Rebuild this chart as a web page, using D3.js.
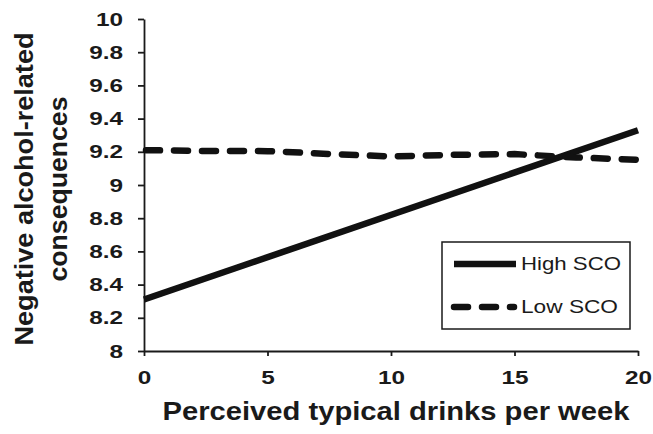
<!DOCTYPE html>
<html><head><meta charset="utf-8">
<script src="https://cdn.jsdelivr.net/npm/d3@7"></script>
<style>
body{margin:0;background:#fff;}
svg{display:block;font-family:"Liberation Sans",Arial,sans-serif;}
</style></head><body>
<script>
const xTicks = [0, 5, 10, 15, 20];
const yTicks = [8, 8.2, 8.4, 8.6, 8.8, 9, 9.2, 9.4, 9.6, 9.8, 10];
const highX = [0, 20];
const highY = [8.31, 9.33];
const lowX = [0, 2.5, 5, 7.5, 10, 12.5, 15, 17.5, 20];
const lowY = [9.21, 9.205, 9.204, 9.187, 9.172, 9.182, 9.186, 9.166, 9.152];
const seriesNames = ["High SCO", "Low SCO"];
const xTitle = "Perceived typical drinks per week";
const yTitle = ["Negative alcohol-related", "consequences"];

const W = 653, H = 434;
const m = {left:144, top:19, right:15, bottom:83};
const svg = d3.select("body").append("svg").attr("width", W).attr("height", H);
const x = d3.scaleLinear().domain([0, 20]).range([m.left, W - m.right]);
const y = d3.scaleLinear().domain([8, 10]).range([H - m.bottom, m.top]);
const ink = "#1a1a1a";
const stretch = 1.28;

const gy = svg.append("g").attr("transform", `translate(${m.left},0)`)
  .call(d3.axisLeft(y).tickValues(yTicks).tickFormat(d3.format("~g")).tickSize(6).tickPadding(15).tickSizeOuter(0));
const gx = svg.append("g").attr("transform", `translate(0,${H - m.bottom})`)
  .call(d3.axisBottom(x).tickValues(xTicks).tickFormat(d3.format("d")).tickSize(5).tickPadding(15).tickSizeOuter(0));
[gx, gy].forEach(g => {
  g.select(".domain").attr("stroke", ink).attr("stroke-width", 1.8);
  g.selectAll(".tick line").attr("stroke", ink).attr("stroke-width", 1.8);
  g.selectAll("text").attr("fill", ink).attr("font-size", 19).attr("font-weight", "bold")
    .each(function(){
      const w = this.getComputedTextLength();
      d3.select(this).attr("textLength", w * stretch).attr("lengthAdjust", "spacingAndGlyphs");
    });
});

const line = d3.line().x(d => x(d[0])).y(d => y(d[1]));
svg.append("path").datum(highX.map((v, i) => [v, highY[i]]))
  .attr("d", line).attr("fill", "none").attr("stroke", "#111").attr("stroke-width", 6.5);
svg.append("path").datum(lowX.map((v, i) => [v, lowY[i]]))
  .attr("d", line).attr("fill", "none").attr("stroke", "#111").attr("stroke-width", 6.5)
  .attr("stroke-linecap", "round").attr("stroke-dasharray", "14,14").attr("stroke-dashoffset", -2);

// legend
const lg = svg.append("g");
lg.append("rect").attr("x", 442).attr("y", 242).attr("width", 188).attr("height", 87)
  .attr("fill", "#fff").attr("stroke", ink).attr("stroke-width", 1.5);
const ly = [264, 307];
seriesNames.forEach((n, i) => {
  lg.append("line").attr("x1", 454).attr("x2", i ? 514 : 516).attr("y1", ly[i]).attr("y2", ly[i])
    .attr("stroke", "#111").attr("stroke-width", 6.5)
    .attr("stroke-linecap", i ? "round" : "butt")
    .attr("stroke-dasharray", i ? "14,14" : null);
  lg.append("text").attr("x", 521).attr("y", ly[i]).attr("dy", "0.35em")
    .attr("font-size", 18).attr("fill", ink)
    .attr("textLength", i ? 97 : 100).attr("lengthAdjust", "spacingAndGlyphs").text(n);
});

// axis titles
svg.append("text").attr("x", 396).attr("y", 420).attr("text-anchor", "middle")
  .attr("font-size", 25).attr("font-weight", "bold").attr("fill", ink)
  .attr("textLength", 467).attr("lengthAdjust", "spacingAndGlyphs").text(xTitle);
const yt = svg.append("g").attr("transform", "translate(0,189) rotate(-90)");
yt.append("text").attr("x", 0).attr("y", 33).attr("text-anchor", "middle")
  .attr("font-size", 26).attr("font-weight", "bold").attr("fill", ink)
  .attr("textLength", 313).attr("lengthAdjust", "spacingAndGlyphs").text(yTitle[0]);
yt.append("text").attr("x", 0).attr("y", 67).attr("text-anchor", "middle")
  .attr("font-size", 26).attr("font-weight", "bold").attr("fill", ink)
  .attr("textLength", 185).attr("lengthAdjust", "spacingAndGlyphs").text(yTitle[1]);
</script>
</body></html>
